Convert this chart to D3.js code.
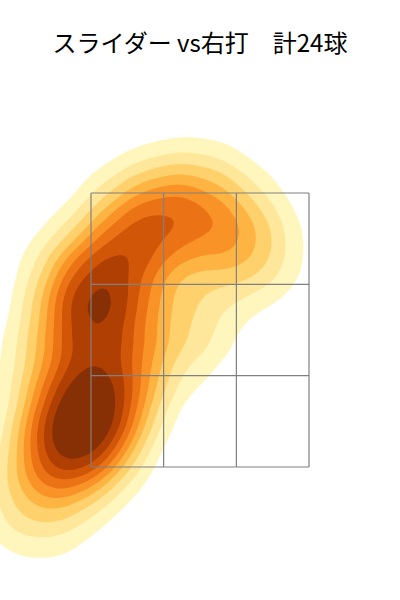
<!DOCTYPE html>
<html><head><meta charset="utf-8">
<script src="https://cdn.jsdelivr.net/npm/d3@7"></script>
<style>body{margin:0;background:#fff}</style></head>
<body><svg id="c" width="400" height="600"></svg>
<script>
const title = "スライダー vs右打　計24球";
const pitchX = [-1.07,-0.99,-0.92,-0.88,-0.84,-0.80,-0.95,-0.76, -0.84,-0.76,-0.88,-0.73,-0.80, -0.53,-0.38,-0.61,-0.31, 0.15,0.34,0.0, -1.22,-0.15,-0.53,-1.07];
const pitchY = [1.55,1.66,1.74,1.84,1.92,1.99,1.70,2.06, 2.65,2.79,2.86,2.57,2.50, 3.16,3.23,3.01,3.38, 3.23,3.08,3.45, 1.25,2.57,2.21,2.28];
const zoneX = [-0.83,-0.277,0.277,0.83];
const zoneY = [1.5,2.167,2.833,3.5];
const levelFrac = [0.04,0.1,0.17,0.25,0.33,0.42,0.52,0.63,0.76];

const svg = d3.select("#c");
const x = d3.scaleLinear().domain([-0.83,0.83]).range([91,309]);
const y = d3.scaleLinear().domain([1.5,3.5]).range([467,193]);
const pts = pitchX.map((v,i)=>[v,pitchY[i]]);
const est = d3.contourDensity().x(d=>x(d[0])).y(d=>y(d[1])).size([400,600]).bandwidth(31);
const mx = d3.max(est.thresholds(60)(pts), d=>d.value);
const dens = est.thresholds(levelFrac.map(f=>f*mx))(pts);
const n = dens.length;
const col = i => d3.interpolateYlOrBr(0.12 + 0.8*i/(n-1));
svg.append("g").selectAll("path").data(dens).join("path")
  .attr("d", d3.geoPath()).attr("fill",(d,i)=>col(i)).attr("stroke","none");
const g = svg.append("g").attr("stroke","#808080").attr("stroke-width",1.2).attr("fill","none");
zoneX.forEach(v=>g.append("line").attr("x1",x(v)).attr("x2",x(v)).attr("y1",y(1.5)).attr("y2",y(3.5)));
zoneY.forEach(v=>g.append("line").attr("y1",y(v)).attr("y2",y(v)).attr("x1",x(-0.83)).attr("x2",x(0.83)));
svg.append("text").attr("x",200).attr("y",52).attr("text-anchor","middle")
  .attr("font-family","Noto Sans CJK JP").attr("font-size",24).text(title);
</script></body></html>
